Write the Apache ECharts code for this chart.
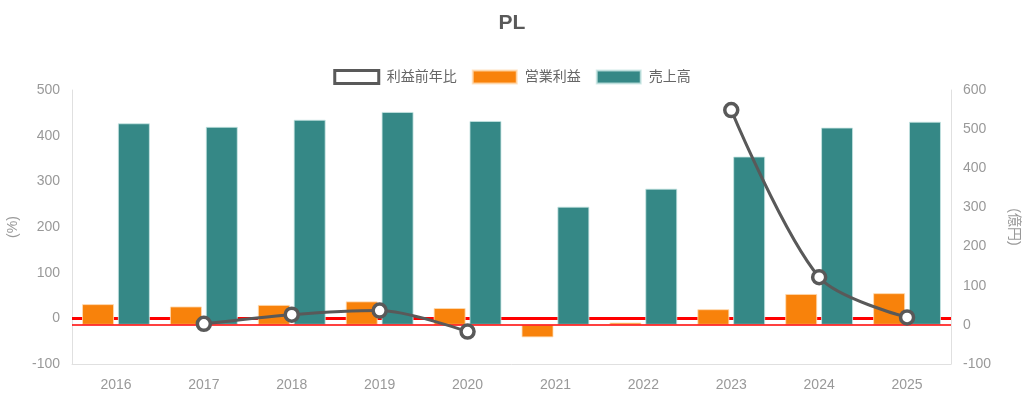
<!DOCTYPE html>
<html>
<head>
<meta charset="utf-8">
<script src="https://cdn.jsdelivr.net/npm/echarts@6/dist/echarts.min.js"></script>
<style>html,body{margin:0;padding:0;background:#fff}#c{width:1024px;height:399px}</style>
</head>
<body>
<div id="c"></div>
<script>
const categories = ['2016','2017','2018','2019','2020','2021','2022','2023','2024','2025'];
const growthPct = [null, -12, 8, 17, -29, null, null, 456, 90, 2];
const operatingProfit = [53, 47, 51, 60, 43, -32, 6, 40, 79, 81];
const sales = [515, 506, 524, 544, 521, 302, 348, 430, 504, 519];
const leftTicks = { min: -100, max: 500, interval: 100 };
const rightTicks = { min: -100, max: 600, interval: 100 };

const FONT = '"Liberation Sans", "Noto Sans CJK JP", sans-serif';
const chart = echarts.init(document.getElementById('c'));
chart.setOption({
  animation: false,
  textStyle: { fontFamily: FONT },
  title: { text: 'PL', left: 'center', top: 8, textStyle: { fontSize: 21, fontWeight: 'bold', color: '#595959', fontFamily: FONT } },
  legend: {
    top: 64, left: 'center', itemWidth: 44, itemHeight: 13, itemGap: 15,
    textStyle: { fontSize: 14, color: '#666', fontFamily: FONT, padding: [0, 0, 0, 3] },
    data: [
      { name: '利益前年比', icon: 'rect', itemStyle: { color: '#fff', borderColor: '#595959', borderWidth: 3 } },
      { name: '営業利益', icon: 'rect' },
      { name: '売上高', icon: 'rect' }
    ]
  },
  grid: { left: 72, right: 73, top: 90, bottom: 35, outerBoundsMode: 'none', containLabel: false },
  xAxis: {
    type: 'category', data: categories,
    axisLine: { onZero: false, lineStyle: { color: '#e0e0e0' } },
    axisTick: { show: false },
    axisLabel: { color: '#999', fontSize: 14, margin: 14 }
  },
  yAxis: [
    {
      type: 'value', min: leftTicks.min, max: leftTicks.max, interval: leftTicks.interval,
      name: '(%)', nameLocation: 'middle', nameGap: 52, nameRotate: 90,
      nameTextStyle: { color: '#999', fontSize: 14 },
      axisLine: { show: true, lineStyle: { color: '#e0e0e0' } },
      axisTick: { show: false }, splitLine: { show: false },
      axisLabel: { color: '#999', fontSize: 14, margin: 12 }
    },
    {
      type: 'value', min: rightTicks.min, max: rightTicks.max, interval: rightTicks.interval,
      name: '(億円)', nameLocation: 'middle', nameGap: 56, nameRotate: -90,
      nameTextStyle: { color: '#999', fontSize: 14 },
      axisLine: { show: true, lineStyle: { color: '#e0e0e0' } },
      axisTick: { show: false }, splitLine: { show: false },
      axisLabel: { color: '#999', fontSize: 14, margin: 12 }
    }
  ],
  series: [
    {
      name: '営業利益', type: 'bar', yAxisIndex: 1, data: operatingProfit,
      barWidth: 32, barGap: '12%', barCategoryGap: '23%',
      itemStyle: { color: '#F8820B', borderColor: 'rgba(255,220,180,0.8)', borderWidth: 1 }
    },
    {
      name: '売上高', type: 'bar', yAxisIndex: 1, data: sales,
      barWidth: 32,
      itemStyle: { color: '#358886', borderColor: 'rgba(200,230,228,0.8)', borderWidth: 1 }
    },
    {
      name: 'zeroRight', type: 'line', yAxisIndex: 1, data: [], silent: true, z: 3,
      markLine: {
        silent: true, symbol: ['none', 'none'], label: { show: false },
        lineStyle: { color: '#ff0000', width: 1.5, type: 'solid', opacity: 1 },
        emphasis: { disabled: true },
        data: [{ yAxis: 0 }]
      }
    },
    {
      name: '利益前年比', type: 'line', yAxisIndex: 0, data: growthPct,
      smooth: 0.3, connectNulls: false, z: 5,
      symbol: 'circle', symbolSize: 13,
      lineStyle: { color: '#595959', width: 3 },
      itemStyle: { color: '#fff', borderColor: '#595959', borderWidth: 3.5 },
      markLine: {
        silent: true, symbol: ['none', 'none'], label: { show: false }, z: 1,
        lineStyle: { color: '#ff0000', width: 3, type: 'solid' },
        data: [{ yAxis: 0, lineStyle: { color: '#ff0000', width: 3, type: 'solid' } }]
      }
    }
  ]
});
</script>
</body>
</html>
